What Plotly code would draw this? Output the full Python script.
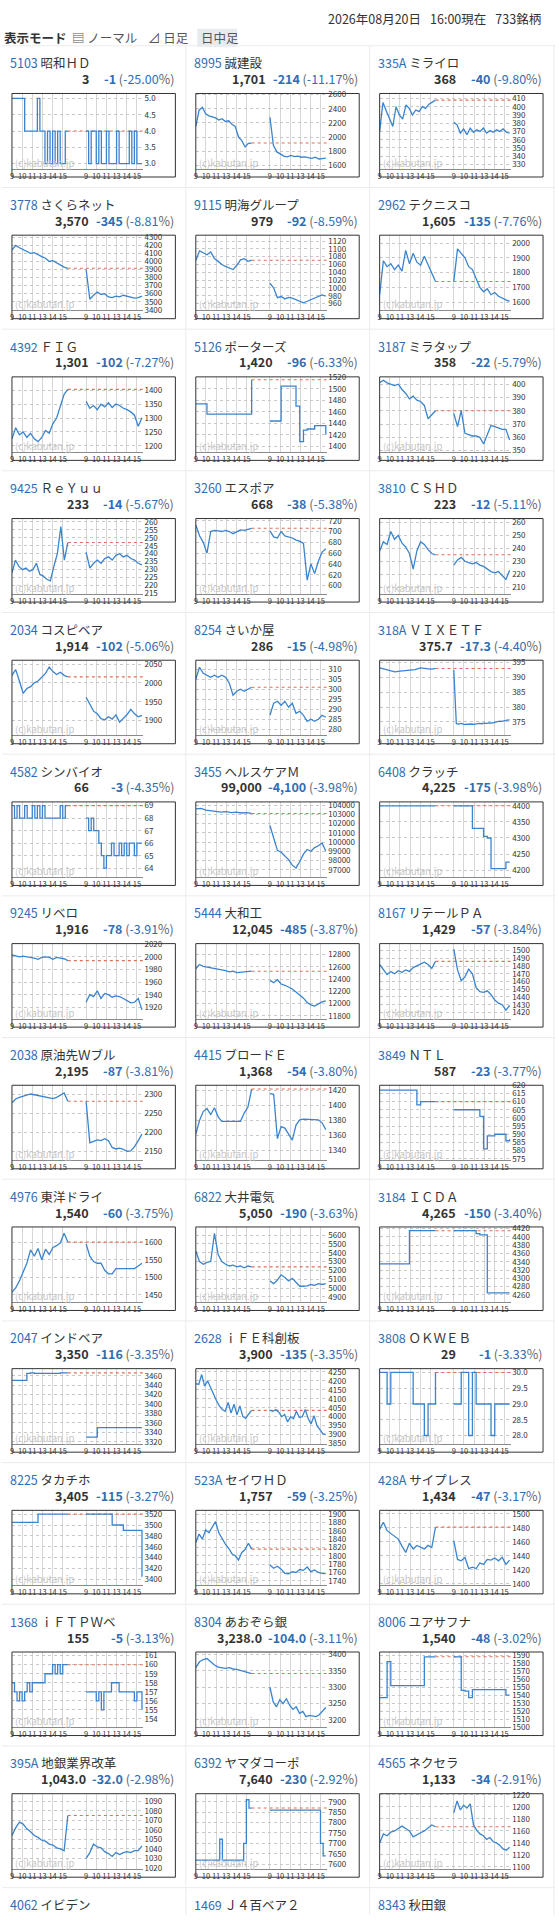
import numpy as np
import plotly.graph_objects as go

W, H = 559, 1920

# ---- stock list (ranking order) ----
codes = ["5103", "8995", "335A", "3778", "9115", "2962", "4392", "5126", "3187",
         "9425", "3260", "3810", "2034", "8254", "318A", "4582", "3455", "6408",
         "9245", "5444", "8167", "2038", "4415", "3849", "4976", "6822", "3184",
         "2047", "2628", "3808", "8225", "523A", "428A", "1368", "8304", "8006",
         "395A", "6392", "4565", "4062", "1469", "8343"]
names = ["昭和ＨＤ", "誠建設", "ミライロ", "さくらネット", "明海グループ", "テクニスコ",
         "ＦＩＧ", "ポーターズ", "ミラタップ", "ＲｅＹｕｕ", "エスポア", "ＣＳＨＤ",
         "コスピベア", "さいか屋", "ＶＩＸＥＴＦ", "シンバイオ", "ヘルスケアＭ", "クラッチ",
         "リベロ", "大和工", "リテールＰＡ", "原油先Ｗブル", "ブロードＥ", "ＮＴＬ",
         "東洋ドライ", "大井電気", "ＩＣＤＡ", "インドベア", "ｉＦＥ科創板", "ＯＫＷＥＢ",
         "タカチホ", "セイワＨＤ", "サイプレス", "ｉＦＴＰＷベ", "あおぞら銀", "ユアサフナ",
         "地銀業界改革", "ヤマダコーポ", "ネクセラ", "イビデン", "Ｊ４百ベア２", "秋田銀"]
price_txt = ["3", "1,701", "368", "3,570", "979", "1,605", "1,301", "1,420", "358",
             "233", "668", "223", "1,914", "286", "375.7", "66", "99,000", "4,225",
             "1,916", "12,045", "1,429", "2,195", "1,368", "587", "1,540", "5,050", "4,265",
             "3,350", "3,900", "29", "3,405", "1,757", "1,434", "155", "3,238.0", "1,540",
             "1,043.0", "7,640", "1,133"]
chg_txt = ["-1", "-214", "-40", "-345", "-92", "-135", "-102", "-96", "-22",
           "-14", "-38", "-12", "-102", "-15", "-17.3", "-3", "-4,100", "-175",
           "-78", "-485", "-57", "-87", "-54", "-23", "-60", "-190", "-150",
           "-116", "-135", "-1", "-115", "-59", "-47", "-5", "-104.0", "-48",
           "-32.0", "-230", "-34"]
pct_txt = ["-25.00", "-11.17", "-9.80", "-8.81", "-8.59", "-7.76", "-7.27", "-6.33", "-5.79",
           "-5.67", "-5.38", "-5.11", "-5.06", "-4.98", "-4.40", "-4.35", "-3.98", "-3.98",
           "-3.91", "-3.87", "-3.84", "-3.81", "-3.80", "-3.77", "-3.75", "-3.63", "-3.40",
           "-3.35", "-3.35", "-3.33", "-3.27", "-3.25", "-3.17", "-3.13", "-3.11", "-3.02",
           "-2.98", "-2.92", "-2.91"]

# ---- intraday prices: d1 = previous session, d2 = today (evenly spaced over 9:00-15:30) ----
d1_5103 = [5, 5, 5, 5, 5, 4, 4, 4, 4, 4, 5, 4, 4, 3, 4, 3, 4, 3, 4, 3, 3, 4, 4]
d2_5103 = [4, 3, 4, 4, 3, 4, 3, 3, 4, 3, 3, 3, 4, 3, 3, 3, 3, 4, 3, 4, 3, 3, 3]
d1_8995 = [2150, 2380, 2420, 2330, 2300, 2290, 2270, 2240, 2260, 2220, 2230, 2180, 2150, 2000, 1950, 1860, 1910, 1915]
d2_8995 = [2280, 1880, 1790, 1760, 1730, 1720, 1740, 1725, 1730, 1715, 1720, 1710, 1700, 1715, 1690, 1695, 1701]
d1_335A = [370, 405, 395, 385, 376, 400, 390, 385, 402, 398, 390, 396, 394, 400, 398, 403, 405, 408]
d2_335A = [381, 378, 368, 373, 366, 374, 369, 372, 370, 374, 368, 371, 369, 372, 370, 373, 369, 368]
d1_3778 = [4140, 4200, 4170, 4150, 4120, 4100, 4110, 4080, 4060, 4040, 4000, 4010, 3980, 3960, 3930, 3915]
d2_3778 = [3900, 3530, 3580, 3620, 3590, 3600, 3560, 3550, 3570, 3560, 3580, 3565, 3555, 3545, 3550, 3570]
d1_9115 = [1070, 1095, 1090, 1085, 1092, 1075, 1068, 1060, 1055, 1050, 1047, 1058, 1072, 1075, 1068, 1071]
d2_9115 = [1012, 1000, 975, 978, 972, 976, 974, 970, 965, 962, 966, 970, 974, 978, 982, 979]
d1_2962 = [1650, 1880, 1840, 1860, 1820, 1850, 1810, 1950, 1860, 1930, 1870, 1850, 1910, 1850, 1800, 1740]
d2_2962 = [1740, 1960, 1930, 1900, 1840, 1820, 1760, 1700, 1670, 1690, 1650, 1665, 1640, 1625, 1615, 1605]
d1_4392 = [1225, 1265, 1240, 1250, 1230, 1245, 1225, 1215, 1230, 1255, 1245, 1280, 1300, 1340, 1385, 1403]
d2_4392 = [1360, 1335, 1345, 1330, 1350, 1340, 1355, 1338, 1350, 1345, 1335, 1330, 1322, 1310, 1270, 1301]
d1_5126 = [1474, 1474, 1474, 1456, 1456, 1456, 1456, 1456, 1456, 1456, 1456, 1456, 1456, 1456, 1456, 1516]
d2_5126 = [1444, 1444, 1444, 1505, 1505, 1505, 1505, 1470, 1408, 1428, 1430, 1430, 1436, 1436, 1436, 1420]
d1_3187 = [401, 403, 401, 400, 399, 400, 396, 393, 389, 391, 388, 387, 384, 374, 377, 380]
d2_3187 = [378, 368, 380, 363, 362, 361, 361, 360, 355, 362, 369, 368, 367, 366, 366, 358]
d1_9425 = [228, 236, 232, 230, 231, 229, 230, 234, 227, 226, 224, 223, 232, 240, 257, 236, 247]
d2_9425 = [241, 231, 234, 236, 234, 237, 238, 236, 239, 240, 238, 239, 237, 236, 234, 233]
d1_3260 = [712, 692, 680, 660, 700, 702, 701, 700, 702, 700, 696, 700, 703, 702, 704, 706]
d2_3260 = [701, 690, 688, 700, 692, 690, 688, 684, 682, 678, 610, 640, 622, 645, 662, 668]
d1_3810 = [238, 245, 243, 253, 247, 250, 244, 241, 236, 224, 238, 245, 243, 239, 236, 235]
d2_3810 = [227, 231, 233, 230, 229, 228, 229, 227, 226, 224, 222, 221, 222, 219, 216, 223]
d1_2034 = [2020, 2035, 2005, 1972, 1985, 1990, 2000, 2005, 2015, 2025, 2042, 2030, 2022, 2028, 2020, 2016]
d2_2034 = [1962, 1945, 1925, 1918, 1905, 1902, 1910, 1904, 1915, 1896, 1905, 1916, 1930, 1918, 1910, 1914]
d1_8254 = [305, 311, 308, 307, 306, 307, 306, 307, 306, 303, 297, 299, 300, 299, 300, 301]
d2_8254 = [287, 293, 294, 292, 294, 291, 293, 288, 289, 287, 284, 285, 284, 285, 287, 286]
d1_318A = [393.2, 392.8, 392.3, 391.9, 392.1, 392.3, 392.5, 392.6, 393.2, 392.9, 392.8, 393.0]
d2_318A = [392.5, 374.4, 374.3, 374.5, 374.2, 374.3, 374.4, 374.3, 374.2, 374.4, 374.5, 374.4,
           374.6, 374.5, 374.7, 374.6, 374.8, 375.0, 375.3, 375.2, 375.5, 375.6, 375.7]
d1_4582 = [69, 68, 69, 68, 68, 69, 68, 68, 69, 68, 69, 68, 69, 68, 68, 68, 68, 68, 68, 69, 68, 69, 69]
d2_4582 = [68, 67, 68, 67, 67, 66, 65, 64, 65, 65, 66, 65, 65, 66, 65, 66, 65, 66, 66, 65, 66, 66, 66]
d1_3455 = [103600, 103650, 103450, 103400, 103300, 103250, 103300, 103200, 103250, 103150, 103200, 103100]
d2_3455 = [101800, 100500, 99100, 98900, 98500, 98100, 97500, 97200, 97900, 98700, 99200, 99000,
           99400, 99600, 99900, 99000]
d1_6408 = [4400, 4400, 4400, 4400]
d2_6408 = [4400, 4400, 4400, 4400, 4400, 4330, 4330, 4330, 4305, 4300, 4205, 4205, 4205, 4205, 4225, 4225]
d1_9245 = [2003, 2001, 2000, 2001, 2000, 2000, 1998, 1996, 1999, 2000, 1999, 1996, 1999, 1998, 1997, 1994]
d2_9245 = [1928, 1940, 1937, 1946, 1934, 1942, 1940, 1936, 1938, 1937, 1934, 1930, 1927, 1928, 1934, 1916]
d1_5444 = [12570, 12640, 12610, 12600, 12580, 12570, 12560, 12550, 12540, 12520, 12530, 12505, 12510, 12520, 12515, 12530]
d2_5444 = [12380, 12340, 12390, 12320, 12300, 12270, 12240, 12190, 12140, 12090, 12020, 11980, 11960, 12000, 12030, 12045]
d1_8167 = [1482, 1475, 1469, 1473, 1470, 1474, 1472, 1475, 1473, 1478, 1480, 1483, 1485, 1482, 1477, 1486]
d2_8167 = [1502, 1475, 1461, 1466, 1476, 1470, 1452, 1447, 1446, 1448, 1443, 1436, 1432, 1430, 1423, 1429]
d1_2038 = [2278, 2288, 2292, 2295, 2298, 2301, 2299, 2297, 2294, 2292, 2290, 2289, 2292, 2298, 2304, 2282]
d2_2038 = [2282, 2172, 2176, 2180, 2178, 2183, 2178, 2160, 2156, 2158, 2155, 2150, 2151, 2162, 2178, 2195]
d1_4415 = [1362, 1380, 1392, 1396, 1388, 1397, 1385, 1379, 1379, 1379, 1379, 1379, 1379, 1390, 1398, 1422]
d2_4415 = [1416, 1415, 1356, 1372, 1370, 1362, 1354, 1374, 1381, 1382, 1382, 1382, 1382, 1381, 1377, 1368]
d1_3849 = [617, 617, 617, 617, 617, 617, 617, 617, 617, 617, 608, 610, 610, 610, 610, 610]
d2_3849 = [605, 605, 605, 605, 605, 605, 605, 601, 581, 589, 589, 590, 590, 590, 586, 587]
d1_4976 = [1458, 1470, 1490, 1515, 1540, 1578, 1560, 1582, 1550, 1580, 1565, 1585, 1590, 1598, 1625, 1600]
d2_4976 = [1595, 1560, 1545, 1540, 1540, 1520, 1510, 1510, 1525, 1525, 1525, 1525, 1525, 1525, 1532, 1540]
d1_6822 = [5420, 5300, 5270, 5290, 5300, 5620, 5380, 5300, 5270, 5250, 5260, 5240, 5250, 5230, 5250, 5240]
d2_6822 = [5080, 5050, 5090, 5150, 5120, 5080, 5110, 5060, 5020, 5020, 5025, 5040, 5030, 5050, 5040, 5050]
d1_3184 = [4335, 4335, 4335, 4335, 4335, 4335, 4335, 4335, 4415, 4415, 4415, 4415, 4415, 4415, 4415, 4415]
d2_3184 = [4415, 4415, 4415, 4415, 4415, 4415, 4408, 4405, 4405, 4265, 4265, 4265, 4265, 4265, 4265, 4265]
d1_2047 = [3450, 3450, 3450, 3450, 3465, 3466, 3465, 3465, 3465, 3465, 3465, 3465, 3465, 3466, 3466, 3466]
d2_2047 = [3330, 3330, 3330, 3350, 3350, 3350, 3350, 3350, 3350, 3350, 3350, 3350, 3350, 3350, 3350, 3350]
d1_2628 = [4185, 4180, 4235, 4170, 4200, 4160, 4120, 4090, 4060, 4040, 4030, 4080, 4020, 4070, 4010, 4060, 4000, 3990, 4015, 4035]
d2_2628 = [4035, 4030, 4040, 4025, 4000, 4012, 3970, 4000, 3988, 4030, 3995, 4000, 4040, 3990, 3960, 4005, 3950, 3930, 3905, 3900]
d1_3808 = [30, 30, 29, 30, 30, 30, 30, 30, 30, 29, 29, 29, 28, 29, 29, 30]
d2_3808 = [29, 29, 30, 30, 28, 30, 29, 29, 29, 29, 28, 29, 29, 29, 29, 29]
d1_8225 = [3505, 3505, 3505, 3505, 3505, 3505, 3505, 3520, 3520, 3520, 3520, 3520, 3520, 3520, 3520, 3520]
d2_8225 = [3520, 3520, 3520, 3520, 3520, 3520, 3520, 3500, 3500, 3500, 3490, 3490, 3490, 3490, 3490, 3405]
d1_523A = [1832, 1852, 1840, 1862, 1855, 1870, 1882, 1855, 1840, 1828, 1818, 1805, 1800, 1790, 1808, 1815, 1830, 1816]
d2_523A = [1778, 1770, 1775, 1768, 1758, 1757, 1762, 1760, 1767, 1765, 1773, 1762, 1766, 1760, 1758, 1757]
d1_428A = [1478, 1488, 1476, 1472, 1468, 1464, 1454, 1445, 1458, 1450, 1455, 1452, 1450, 1455, 1452, 1481]
d2_428A = [1462, 1435, 1433, 1438, 1422, 1424, 1422, 1430, 1428, 1435, 1434, 1437, 1433, 1438, 1428, 1434]
d1_1368 = [158, 157, 156, 157, 156, 157, 158, 157, 158, 158, 158, 158, 158, 159, 159, 159, 160, 159, 160, 159, 160, 160, 160]
d2_1368 = [157, 157, 157, 157, 156, 157, 155, 157, 157, 157, 158, 158, 158, 157, 157, 157, 157, 157, 157, 156, 157, 157, 155]
d1_8304 = [3360, 3378, 3385, 3388, 3378, 3368, 3362, 3360, 3358, 3360, 3356, 3355, 3352, 3350, 3346, 3342]
d2_8304 = [3300, 3255, 3240, 3262, 3250, 3265, 3245, 3232, 3240, 3220, 3226, 3210, 3214, 3212, 3210, 3216, 3228, 3238]
d1_8006 = [1537, 1537, 1582, 1552, 1552, 1552, 1552, 1552, 1552, 1552, 1552, 1552, 1588, 1588, 1588, 1588]
d2_8006 = [1588, 1588, 1546, 1545, 1537, 1547, 1547, 1547, 1547, 1547, 1547, 1547, 1547, 1547, 1540, 1540]
d1_395A = [1054, 1062, 1068, 1066, 1061, 1058, 1054, 1052, 1049, 1048, 1045, 1044, 1041, 1040, 1038, 1075]
d2_395A = [1030, 1036, 1045, 1042, 1041, 1037, 1035, 1032, 1036, 1034, 1036, 1037, 1036, 1038, 1038, 1043]
d1_6392 = [7620, 7620, 7620, 7620, 7620, 7620, 7620, 7620, 7620, 7720, 7620, 7620, 7620, 7620, 7620, 7620,
           7620, 7620, 7700, 7910, 7870, 7870]
d2_6392 = [7860, 7860, 7860, 7860, 7860, 7860, 7860, 7860, 7860, 7860, 7860, 7860, 7860, 7860, 7860, 7860,
           7860, 7860, 7860, 7700, 7640, 7640]
d1_4565 = [1140, 1155, 1152, 1158, 1160, 1164, 1168, 1164, 1160, 1150, 1154, 1157, 1160, 1165, 1170, 1167]
d2_4565 = [1190, 1210, 1195, 1203, 1198, 1205, 1170, 1161, 1155, 1152, 1146, 1149, 1142, 1140, 1136, 1130, 1128, 1133]

day1 = [d1_5103, d1_8995, d1_335A, d1_3778, d1_9115, d1_2962, d1_4392, d1_5126, d1_3187,
        d1_9425, d1_3260, d1_3810, d1_2034, d1_8254, d1_318A, d1_4582, d1_3455, d1_6408,
        d1_9245, d1_5444, d1_8167, d1_2038, d1_4415, d1_3849, d1_4976, d1_6822, d1_3184,
        d1_2047, d1_2628, d1_3808, d1_8225, d1_523A, d1_428A, d1_1368, d1_8304, d1_8006,
        d1_395A, d1_6392, d1_4565]
day2 = [d2_5103, d2_8995, d2_335A, d2_3778, d2_9115, d2_2962, d2_4392, d2_5126, d2_3187,
        d2_9425, d2_3260, d2_3810, d2_2034, d2_8254, d2_318A, d2_4582, d2_3455, d2_6408,
        d2_9245, d2_5444, d2_8167, d2_2038, d2_4415, d2_3849, d2_4976, d2_6822, d2_3184,
        d2_2047, d2_2628, d2_3808, d2_8225, d2_523A, d2_428A, d2_1368, d2_8304, d2_8006,
        d2_395A, d2_6392, d2_4565]
stepped = {"5103", "5126", "4582", "6408", "3849", "3184", "2047", "3808", "8225",
           "1368", "8006", "6392"}

# y axis window and tick step of each small chart
y_lo = [2.85, 1555, 325, 3394, 943, 1545, 1178, 1390, 349, 215, 585, 205, 1861, 277, 370.5,
        63.3, 96220, 4179, 1902, 11755, 1412, 2126, 1327, 574, 1430, 4841, 4243, 3316, 3849,
        27.74, 3389, 1729, 1398, 153.1, 3178, 1500, 1019, 7578, 1097]
y_hi = [5.15, 2615, 416, 4326, 1135, 2053, 1448, 1521, 405.5, 262, 724, 263, 2060, 314.5, 395.8,
        69.3, 104350, 4412, 2021, 12980, 1509, 2324, 1427, 620, 1643, 5693, 4424, 3475, 4268,
        30.12, 3527, 1909, 1505, 161.4, 3408, 1594, 1098, 7939, 1222]
y_step = [0.5, 200, 10, 100, 20, 100, 50, 20, 10, 5, 20, 10, 50, 5, 5, 1, 1000, 50, 20, 200,
          10, 50, 20, 5, 50, 100, 20, 20, 50, 0.5, 20, 20, 20, 1, 50, 10, 10, 50, 20]

hour_labels = ["9", "10", "11", "13", "14", "15"]
hour_pos = [0, 1, 2, 3, 4, 5]   # trading hours after the open (lunch break removed)
DAY_LEN = 5.5
DAY2_START = 7.3
X_END = 12.95

BLUE = "#2f6db5"
LINE = "#3a84cf"
FONT = "Noto Sans CJK JP"


def px_x(v):
    return v / W


def px_y(v):
    return 1 - v / H


def text_w(s, bold):
    w = 0
    for ch in s:
        if ch.isdigit():
            w += 7.5 if bold else 7.0
        elif ch in ",.":
            w += 3.5
        elif ch == "-":
            w += 4.5
        elif ch == " ":
            w += 3.5
        elif ch in "()":
            w += 4.0
        elif ch == "%":
            w += 10
    return w


fig = go.Figure()
shapes = []
annotations = []

for i in range(len(codes)):
    k, c = divmod(i, 3)
    cell_left = 184.5 * c
    title_y = 57 + 142.5 * k

    annotations.append(dict(
        x=px_x(cell_left + 6), y=px_y(title_y), xanchor="left", yanchor="middle",
        text=f'<span style="color:{BLUE}">{codes[i]}</span> {names[i]}',
        font=dict(size=12.5, color="#333")))

    if i >= len(price_txt):
        continue

    # price line
    grp_w = text_w(chg_txt[i], True) + text_w(" (", False) + text_w(pct_txt[i], False) + 14
    price_right = min(cell_left + 89, cell_left + 175 - grp_w - 8)
    annotations.append(dict(
        x=px_x(price_right), y=px_y(title_y + 16), xanchor="right", yanchor="middle",
        text=f"<b>{price_txt[i]}</b>", font=dict(size=12.5, color="#333")))
    annotations.append(dict(
        x=px_x(cell_left + 175), y=px_y(title_y + 16), xanchor="right", yanchor="middle",
        text=(f'<b><span style="color:{BLUE}">{chg_txt[i]}</span></b> '
              f'<span style="color:#666">(</span><span style="color:{BLUE}">{pct_txt[i]}</span>'
              f'<span style="color:#666">%)</span>'),
        font=dict(size=12.5, color="#666")))

    # chart box
    box_left = cell_left + 10
    box_right = box_left + 164
    box_top = title_y + 31
    box_bot = title_y + 115
    axis_y = box_bot - 8.5

    n = i + 1
    xa = "xaxis" if n == 1 else f"xaxis{n}"
    ya = "yaxis" if n == 1 else f"yaxis{n}"
    xr = "x" if n == 1 else f"x{n}"
    yr = "y" if n == 1 else f"y{n}"

    fig.update_layout({
        xa: dict(domain=[px_x(box_left), px_x(box_left + 132)], anchor=yr,
                 range=[0, X_END], tickvals=hour_pos + [DAY2_START + h for h in hour_pos],
                 ticktext=hour_labels + hour_labels, ticks="", tickangle=0, showgrid=True,
                 gridcolor="#d6d6d6", gridwidth=1, zeroline=False, showline=True,
                 linecolor="#8a8a8a", linewidth=1, tickfont=dict(size=7.5, color="#333"),
                 fixedrange=True),
        ya: dict(domain=[px_y(axis_y), px_y(box_top)], anchor=xr, side="right",
                 range=[y_lo[i], y_hi[i]], tick0=0, dtick=y_step[i],
                 tickformat=".1f" if y_step[i] < 1 else "d", ticks="", showgrid=True,
                 gridcolor="#c8c8c8", griddash="dot", gridwidth=1, zeroline=False,
                 showline=False, tickfont=dict(size=8, color="#333"), fixedrange=True),
    })

    prev_close = float(price_txt[i].replace(",", "")) - float(chg_txt[i].replace(",", ""))
    fig.add_trace(go.Scatter(
        x=[DAY_LEN, X_END], y=[prev_close, prev_close], mode="lines",
        line=dict(color="#e0705a", width=1.1, dash="dot"),
        xaxis=xr, yaxis=yr, hoverinfo="skip", showlegend=False))

    v1, v2 = day1[i], day2[i]
    x1 = np.linspace(0, DAY_LEN, len(v1))
    x2 = np.linspace(DAY2_START, DAY2_START + DAY_LEN, len(v2))
    xs = list(x1) + [None] + list(x2)
    ys = list(v1) + [None] + list(v2)
    fig.add_trace(go.Scatter(
        x=xs, y=ys, mode="lines",
        line=dict(color=LINE, width=1.3, shape="hv" if codes[i] in stepped else "linear"),
        xaxis=xr, yaxis=yr, hoverinfo="skip", showlegend=False))

    shapes.append(dict(type="rect", xref="paper", yref="paper",
                       x0=px_x(box_left), x1=px_x(box_right), y0=px_y(box_bot), y1=px_y(box_top),
                       line=dict(color="#333", width=1), layer="above"))
    annotations.append(dict(
        x=px_x(box_left + 1), y=px_y(axis_y - 6), xanchor="left", yanchor="middle",
        text="(c)kabutan.jp", font=dict(size=9.5, color="#c6c6c6")))

# card borders
for k in range(14):
    y = 57 + 142.5 * k - 17
    shapes.append(dict(type="line", xref="paper", yref="paper", x0=0, x1=px_x(555),
                       y0=px_y(y), y1=px_y(y), line=dict(color="#ebebeb", width=1)))
for xv in [184.5, 369, 554]:
    shapes.append(dict(type="line", xref="paper", yref="paper", x0=px_x(xv), x1=px_x(xv),
                       y0=0, y1=px_y(40), line=dict(color="#ebebeb", width=1)))

# page header
shapes.append(dict(type="rect", xref="paper", yref="paper", x0=px_x(196), x1=px_x(236),
                   y0=px_y(41), y1=px_y(23), fillcolor="#e6ebf0", line=dict(width=0),
                   layer="below"))
annotations += [
    dict(x=px_x(543), y=px_y(13), xanchor="right", yanchor="middle",
         text="2026年08月20日\u2002 16:00現在\u2002 733銘柄", font=dict(size=12.5, color="#333")),
    dict(x=px_x(0), y=px_y(32), xanchor="left", yanchor="middle",
         text="<b>表示モード</b>", font=dict(size=12.5, color="#333")),
    dict(x=px_x(68), y=px_y(32), xanchor="left", yanchor="middle",
         text="▤ ノーマル", font=dict(size=12.5, color="#555")),
    dict(x=px_x(145), y=px_y(32), xanchor="left", yanchor="middle",
         text="⊿ 日足", font=dict(size=12.5, color="#555")),
    dict(x=px_x(198), y=px_y(32), xanchor="left", yanchor="middle",
         text="日中足", font=dict(size=12.5, color="#555")),
]
for a in annotations:
    a.update(xref="paper", yref="paper", showarrow=False)

fig.update_layout(
    width=W, height=H, margin=dict(l=0, r=0, t=0, b=0),
    paper_bgcolor="white", plot_bgcolor="white",
    font=dict(family=FONT, size=12, color="#333"),
    shapes=shapes, annotations=annotations,
    showlegend=False, hovermode=False,
)

fig.write_html("out.html", config={"displayModeBar": False},
               post_script="document.body.style.margin='0';")
